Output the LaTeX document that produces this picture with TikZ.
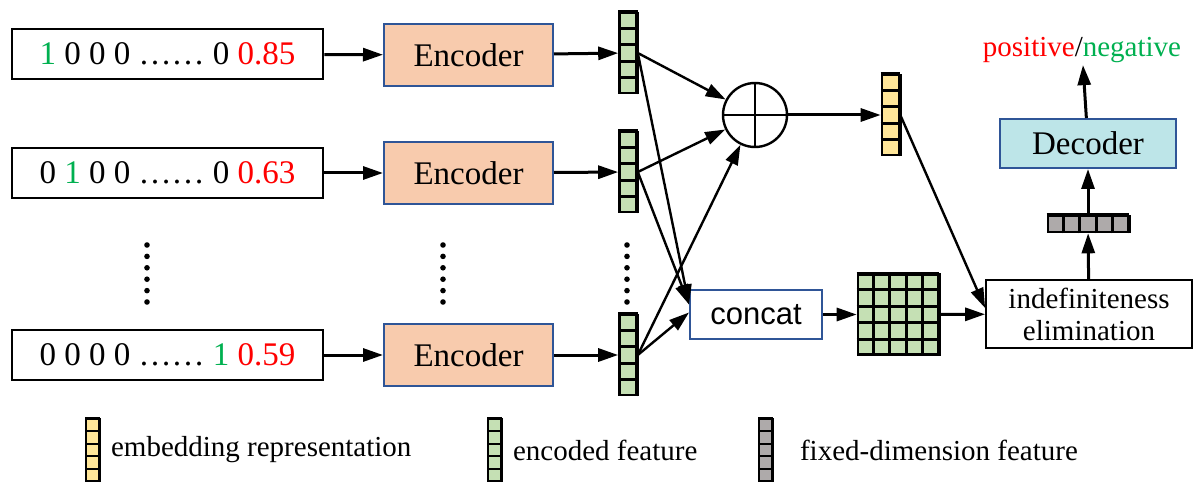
\documentclass[tikz,border=0pt]{standalone}
\usepackage{fontspec}
\setmainfont{Liberation Serif}
\newfontfamily\concatfont{Liberation Sans}
\usetikzlibrary{arrows.meta,calc,positioning}

\definecolor{encfill}{HTML}{F8CBAD}
\definecolor{decfill}{HTML}{BDE5E8}
\definecolor{boxblue}{HTML}{2F5597}
\definecolor{cellgreen}{HTML}{C5E0B4}
\definecolor{cellyellow}{HTML}{FFE699}
\definecolor{cellgray}{HTML}{AEAAAA}
\definecolor{hotgreen}{HTML}{00B050}

\tikzset{
  inbox/.style={draw, line width=1.3pt, minimum width=155.5pt, minimum height=25pt,
    font=\fontsize{16.5}{19}\selectfont},
  encbox/.style={draw=boxblue, fill=encfill, line width=1pt, minimum width=84.5pt,
    minimum height=31pt, font=\fontsize{16.5}{19}\selectfont},
  arr/.style={line width=1.5pt, -{Triangle[length=10pt,width=6.5pt]}},
  thinarr/.style={line width=1.2pt, -{Triangle[length=10pt,width=6.5pt]}},
  cellbox/.style={draw, line width=1.3pt, inner sep=0pt},
  cellline/.style={line width=1.3pt},
}

% name, centre, columns, rows, width, height, fill
\newcommand{\featgrid}[7]{%
  \node[cellbox, fill=#7, minimum width=#5, minimum height=#6] (#1) at (#2) {};
  \foreach \k in {1,...,#3}
    \draw[cellline] ($(#1.south west)!\k/#3!(#1.south east)$) -- ($(#1.north west)!\k/#3!(#1.north east)$);
  \foreach \k in {1,...,#4}
    \draw[cellline] ($(#1.south west)!\k/#4!(#1.north west)$) -- ($(#1.south east)!\k/#4!(#1.north east)$);
}

\begin{document}
\begin{tikzpicture}[x=0.5pt, y=-0.5pt]
    \useasboundingbox (0,0) rectangle (1200,492);

    % inputs and encoders
    \node[inbox] (in1) at (167.5,54) {{\color{hotgreen}1} 0 0 0 …… 0 {\color{red}0.85}};
    \node[inbox] (in2) at (167.5,173) {0 {\color{hotgreen}1} 0 0 …… 0 {\color{red}0.63}};
    \node[inbox] (in3) at (167.5,355) {0 0 0 0 …… {\color{hotgreen}1} {\color{red}0.59}};

    \node[encbox] (enc1) at (468.5,55) {Encoder};
    \node[encbox] (enc2) at (468.5,173) {Encoder};
    \node[encbox] (enc3) at (468.5,355) {Encoder};

    \featgrid{v1}{628,53}{1}{5}{8.5pt}{40pt}{cellgreen}
    \featgrid{v2}{628,172}{1}{5}{8.5pt}{40pt}{cellgreen}
    \featgrid{v3}{628,355}{1}{5}{8.5pt}{40pt}{cellgreen}

    \foreach \i in {1,2,3} {
        \draw[arr] (in\i) -- (enc\i);
        \draw[arr] (enc\i) -- (v\i);
    }

    % vertical dots
    \foreach \x in {147,443,627}
        \foreach \k in {0,...,5}
            \fill (\x,245+11.4*\k) circle (1.4pt);

    % sum and concat
    \node[draw, circle, line width=1.2pt, minimum size=32pt, inner sep=0pt] (op) at (755,115) {};
    \draw[line width=1.2pt] (op.north) -- (op.south) (op.west) -- (op.east);

    \node[draw=boxblue, line width=1pt, minimum width=66pt, minimum height=24.5pt,
        font=\concatfont\fontsize{15.5}{18}\selectfont] (cc) at (756,314.5) {concat};

    \foreach \i in {1,2,3}
        \draw[thinarr] (v\i.east) -- (op);
    \draw[thinarr] (v1.east) -- ([yshift=5pt]cc.west);
    \draw[thinarr] (v2.east) -- ([yshift=5pt]cc.west);
    \draw[thinarr] (v3.east) -- ([yshift=1pt]cc.west);

    \featgrid{emb}{890.5,115}{1}{5}{8.5pt}{40pt}{cellyellow}
    \featgrid{mat}{898,314.5}{5}{5}{40pt}{40pt}{cellgreen}

    \draw[arr] (op) -- (emb);
    \draw[arr] (cc) -- (mat);

    % decoding side
    \node[draw, line width=0.9pt, minimum width=103pt, minimum height=34pt, align=center,
        font=\fontsize{14.5}{16}\selectfont] (ie) at (1089,314) {indefiniteness\\elimination};
    \featgrid{fix}{1088,224}{5}{1}{40pt}{8pt}{cellgray}
    \node[draw=boxblue, fill=decfill, line width=1pt, minimum width=88pt, minimum height=24.5pt,
        font=\fontsize{16.5}{19}\selectfont] (dec) at (1088,143.5) {Decoder};
    \node[font=\fontsize{14.5}{17}\selectfont, inner sep=1pt] (out) at (1082,50)
        {{\color{red}positive}/{\color{hotgreen}negative}};

    \draw[thinarr] (emb.east) -- ([yshift=3pt]ie.west);
    \draw[arr] (mat) -- (ie);
    \draw[arr] (ie) -- (fix);
    \draw[arr] (fix) -- (dec);
    \draw[arr] (dec) -- (out);

    % legend
    \tikzset{cellbox/.append style={line width=1pt}, cellline/.style={line width=1pt}}
    \featgrid{lg1}{92.5,450}{1}{5}{6.5pt}{31pt}{cellyellow}
    \featgrid{lg2}{494.5,450}{1}{5}{6.5pt}{31pt}{cellgreen}
    \featgrid{lg3}{765.5,450}{1}{5}{6.5pt}{31pt}{cellgray}
    \node[right=2pt of lg1, font=\fontsize{14.5}{17}\selectfont] (t1) {embedding representation};
    \node[right=2pt of lg2, font=\fontsize{14.5}{17}\selectfont] (t2) {encoded feature};
    \node[right=10pt of lg3, font=\fontsize{14.5}{17}\selectfont] (t3) {fixed-dimension feature};
\end{tikzpicture}
\end{document}
